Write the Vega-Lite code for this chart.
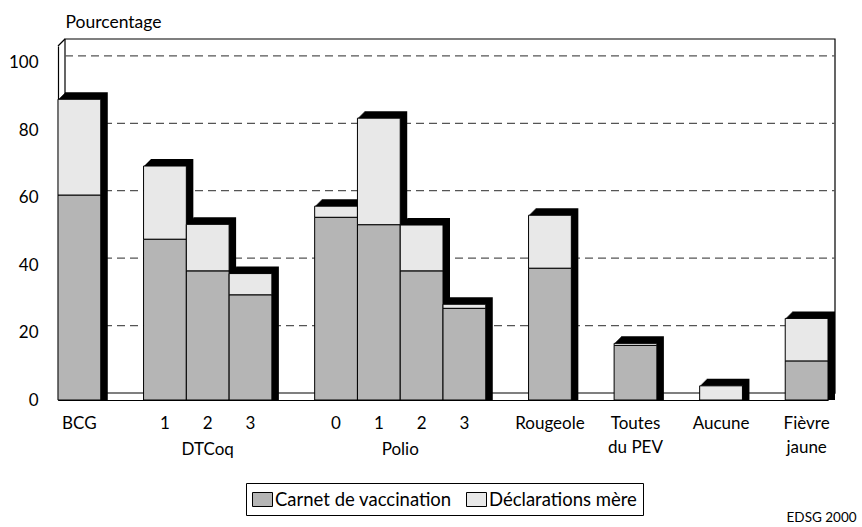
{
  "$schema": "https://vega.github.io/schema/vega-lite/v6.json",
  "width": 770,
  "height": 354,
  "autosize": {"type": "none"},
  "padding": {"left": 58, "top": 46, "right": 34, "bottom": 127},
  "background": "white",
  "config": {
    "view": {"stroke": null},
    "font": "Lato",
    "text": {"font": "Lato"}
  },
  "title": {"text": "EDSG 2000", "orient": "bottom", "anchor": "end", "align": "right", "fontSize": 13.5, "fontWeight": "normal", "font": "Lato", "color": "black", "dx": 21, "offset": -5},
  "datasets": {
    "vaccins": [
      {"vaccin": "BCG", "Carnet de vaccination": 60.8, "Déclarations mère": 28.4},
      {"vaccin": "DTCoq 1", "Carnet de vaccination": 47.7, "Déclarations mère": 21.7},
      {"vaccin": "DTCoq 2", "Carnet de vaccination": 38.3, "Déclarations mère": 13.8},
      {"vaccin": "DTCoq 3", "Carnet de vaccination": 31.2, "Déclarations mère": 6.3},
      {"vaccin": "Polio 0", "Carnet de vaccination": 54.2, "Déclarations mère": 3.3},
      {"vaccin": "Polio 1", "Carnet de vaccination": 52.0, "Déclarations mère": 31.6},
      {"vaccin": "Polio 2", "Carnet de vaccination": 38.3, "Déclarations mère": 13.6},
      {"vaccin": "Polio 3", "Carnet de vaccination": 27.2, "Déclarations mère": 1.2},
      {"vaccin": "Rougeole", "Carnet de vaccination": 39.1, "Déclarations mère": 15.7},
      {"vaccin": "Toutes du PEV", "Carnet de vaccination": 16.2, "Déclarations mère": 0.6},
      {"vaccin": "Aucune", "Carnet de vaccination": 0, "Déclarations mère": 4.2},
      {"vaccin": "Fièvre jaune", "Carnet de vaccination": 11.6, "Déclarations mère": 12.6}
    ],
    "grille": [{"g": 20}, {"g": 40}, {"g": 60}, {"g": 80}, {"g": 100}],
    "cadre": [{}]
  },
  "encoding": {
    "x": {
      "field": "vaccin",
      "type": "nominal",
      "sort": null,
      "scale": {
        "domain": ["BCG", "_1", "DTCoq 1", "DTCoq 2", "DTCoq 3", "_2", "Polio 0", "Polio 1", "Polio 2", "Polio 3", "_3", "Rougeole", "_4", "Toutes du PEV", "_5", "Aucune", "_6", "Fièvre jaune"],
        "paddingInner": 0,
        "paddingOuter": 0
      },
      "axis": {
        "title": null,
        "ticks": false,
        "labelAngle": 0,
        "labelPadding": 15,
        "labelFontSize": 17,
        "labelFont": "Lato",
        "labelColor": "black",
        "labelLineHeight": 24,
        "labelBaseline": "top",
        "domainColor": "black",
        "domainWidth": 1.2,
        "labelExpr": "indexof(datum.value, '_') == 0 ? '' : test(/^(DTCoq|Polio) /, datum.value) ? slice(datum.value, -1) : datum.value == 'Toutes du PEV' ? ['Toutes', 'du PEV'] : datum.value == 'Fièvre jaune' ? ['Fièvre', 'jaune'] : datum.value"
      }
    },
    "y": {
      "type": "quantitative",
      "scale": {"domain": [0, 105], "nice": false},
      "axis": {
        "title": "Pourcentage",
        "titleAngle": 0,
        "titleAlign": "left",
        "titleBaseline": "alphabetic",
        "titleX": 7,
        "titleY": -19,
        "titleFontSize": 17.5,
        "titleFontWeight": "normal",
        "titleFont": "Lato",
        "titleColor": "black",
        "values": [0, 20, 40, 60, 80, 100],
        "ticks": false,
        "grid": false,
        "labelPadding": 20,
        "labelFontSize": 17,
        "labelFont": "Lato",
        "labelColor": "black",
        "domainColor": "black",
        "domainWidth": 1.2
      }
    }
  },
  "layer": [
    {
      "data": {"name": "cadre"},
      "mark": {"type": "rect", "fill": "white", "stroke": "black", "strokeWidth": 1.2, "xOffset": 7, "x2Offset": 7, "yOffset": -7, "y2Offset": -7},
      "encoding": {
        "x": {"value": 0},
        "x2": {"value": "width"},
        "y": {"datum": 0},
        "y2": {"datum": 105}
      }
    },
    {
      "data": {"name": "grille"},
      "mark": {"type": "rule", "stroke": "#555555", "strokeWidth": 1.2, "strokeDash": [8, 5], "xOffset": 7, "x2Offset": 7, "yOffset": -7},
      "encoding": {
        "x": {"value": 0},
        "x2": {"value": "width"},
        "y": {"field": "g", "type": "quantitative"}
      }
    },
    {
      "data": {"name": "cadre"},
      "mark": {"type": "rule", "stroke": "black", "strokeWidth": 1.2, "x2Offset": 7, "y2Offset": -7},
      "encoding": {
        "x": {"value": 0},
        "x2": {"value": 0},
        "y": {"datum": 105},
        "y2": {"datum": 105}
      }
    },
    {
      "data": {"name": "cadre"},
      "mark": {"type": "rule", "stroke": "black", "strokeWidth": 1.2, "x2Offset": 7, "y2Offset": -7},
      "encoding": {
        "x": {"value": "width"},
        "x2": {"value": "width"},
        "y": {"datum": 0},
        "y2": {"datum": 0}
      }
    },
    {
      "data": {"name": "vaccins"},
      "transform": [{"fold": ["Carnet de vaccination", "Déclarations mère"], "as": ["source", "pct"]}],
      "layer": [
        {"mark": {"type": "bar", "fill": "black", "xOffset": 1, "yOffset": -1}, "encoding": {"y": {"aggregate": "sum", "field": "pct", "type": "quantitative"}}},
        {"mark": {"type": "bar", "fill": "black", "xOffset": 2, "yOffset": -2}, "encoding": {"y": {"aggregate": "sum", "field": "pct", "type": "quantitative"}}},
        {"mark": {"type": "bar", "fill": "black", "xOffset": 3, "yOffset": -3}, "encoding": {"y": {"aggregate": "sum", "field": "pct", "type": "quantitative"}}},
        {"mark": {"type": "bar", "fill": "black", "xOffset": 4, "yOffset": -4}, "encoding": {"y": {"aggregate": "sum", "field": "pct", "type": "quantitative"}}},
        {"mark": {"type": "bar", "fill": "black", "xOffset": 5, "yOffset": -5}, "encoding": {"y": {"aggregate": "sum", "field": "pct", "type": "quantitative"}}},
        {"mark": {"type": "bar", "fill": "black", "xOffset": 6, "yOffset": -6}, "encoding": {"y": {"aggregate": "sum", "field": "pct", "type": "quantitative"}}},
        {"mark": {"type": "bar", "fill": "black", "xOffset": 7, "yOffset": -7}, "encoding": {"y": {"aggregate": "sum", "field": "pct", "type": "quantitative"}}},
        {
          "mark": {"type": "bar", "stroke": "black", "strokeWidth": 1},
          "encoding": {
            "y": {"field": "pct", "type": "quantitative", "stack": "zero"},
            "order": {"field": "source", "sort": "ascending"},
            "color": {
              "field": "source",
              "type": "nominal",
              "scale": {"domain": ["Carnet de vaccination", "Déclarations mère"], "range": ["#b5b5b5", "#e8e8e8"]},
              "legend": {
                "orient": "none",
                "legendX": 188,
                "legendY": 437,
                "direction": "horizontal",
                "title": null,
                "strokeColor": "black",
                "fillColor": "white",
                "padding": 6,
                "symbolType": "M-1,-0.7H1V0.7H-1Z",
                "symbolSize": 400,
                "symbolStrokeColor": "black",
                "symbolStrokeWidth": 1,
                "symbolOpacity": 1,
                "labelFontSize": 18.5,
                "labelFont": "Lato",
                "labelColor": "black",
                "labelOffset": 2,
                "labelLimit": 400,
                "columnPadding": 12
              }
            }
          }
        }
      ]
    },
    {
      "data": {"name": "cadre"},
      "mark": {"type": "text", "fontSize": 17, "font": "Lato", "color": "black", "baseline": "alphabetic", "dy": 55},
      "encoding": {
        "x": {"datum": "DTCoq 2"},
        "y": {"datum": 0},
        "text": {"value": "DTCoq"}
      }
    },
    {
      "data": {"name": "cadre"},
      "mark": {"type": "text", "fontSize": 17, "font": "Lato", "color": "black", "baseline": "alphabetic", "dy": 55},
      "encoding": {
        "x": {"datum": "Polio 2", "bandPosition": 0},
        "y": {"datum": 0},
        "text": {"value": "Polio"}
      }
    }
  ]
}
